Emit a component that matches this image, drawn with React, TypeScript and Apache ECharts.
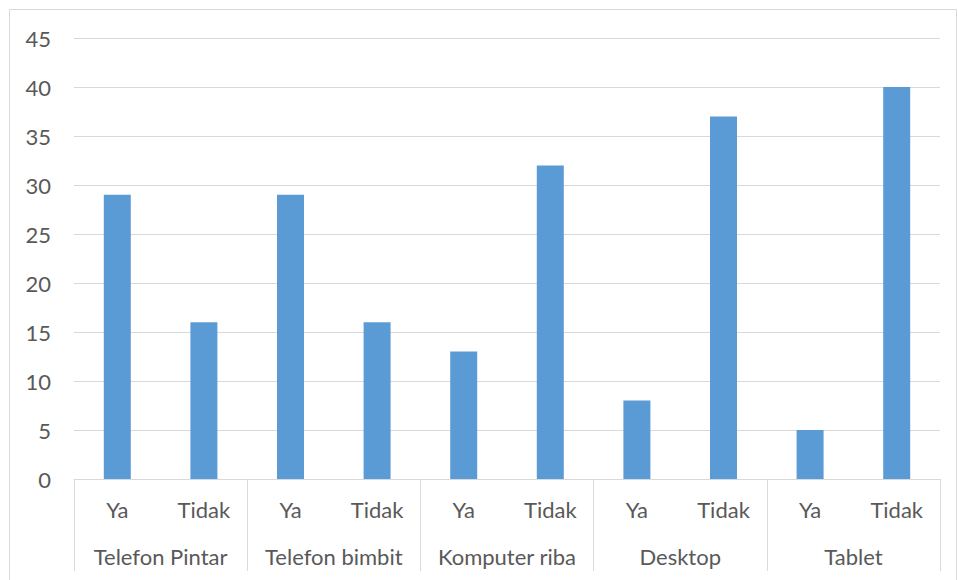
import React, { useEffect, useRef } from "react";
import * as echarts from "echarts";

const subCategories = ["Ya", "Tidak", "Ya", "Tidak", "Ya", "Tidak", "Ya", "Tidak", "Ya", "Tidak"];
const groups = ["Telefon Pintar", "Telefon bimbit", "Komputer riba", "Desktop", "Tablet"];
const values = [29, 16, 29, 16, 13, 32, 8, 37, 5, 40];

const FONT = "Lato";
const TXT = "#595959";
const LINE = "#D9D9D9";
const FS = 22;

export default function App() {
  const ref = useRef<HTMLDivElement>(null);
  useEffect(() => {
    const chart = echarts.init(ref.current!, null, { renderer: "svg" });
    chart.setOption({
      animation: false,
      backgroundColor: "#fff",
      textStyle: { fontFamily: FONT },
      grid: { left: 74, right: 18, top: 38, bottom: 101, containLabel: false },
      graphic: [
        {
          type: "rect",
          shape: { x: 9.5, y: 9.5, width: 947, height: 580 },
          style: { fill: "none", stroke: LINE, lineWidth: 1 },
          silent: true,
        },
      ],
      xAxis: [
        {
          type: "category",
          data: subCategories,
          position: "bottom",
          axisLine: { show: false },
          axisTick: { show: false },
          axisLabel: { color: TXT, fontSize: FS, fontFamily: FONT, margin: 19, interval: 0 },
        },
        {
          type: "category",
          data: groups,
          position: "bottom",
          axisLine: { show: true, lineStyle: { color: LINE, width: 1 } },
          axisTick: { show: true, length: 92, lineStyle: { color: LINE, width: 1 } },
          axisLabel: { color: TXT, fontSize: FS, fontFamily: FONT, margin: 66, interval: 0 },
        },
      ],
      yAxis: {
        type: "value",
        min: 0,
        max: 45,
        interval: 5,
        axisLine: { show: false },
        axisTick: { show: false },
        splitLine: { lineStyle: { color: LINE, width: 1 } },
        axisLabel: { color: TXT, fontSize: FS, fontFamily: FONT, margin: 23 },
      },
      series: [
        {
          type: "bar",
          xAxisIndex: 0,
          data: values,
          barWidth: 27,
          itemStyle: { color: "#5B9BD5" },
        },
      ],
    });
    return () => chart.dispose();
  }, []);
  return (
    <div
      ref={ref}
      style={{ position: "fixed", left: 0, top: 0, width: 958, height: 580 }}
    />
  );
}
